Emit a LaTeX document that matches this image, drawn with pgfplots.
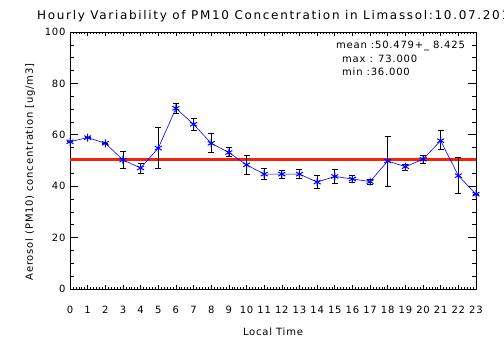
\documentclass[border=0pt]{standalone}
\usepackage{fontspec}
\setmainfont{DejaVu Sans}[LetterSpace=8]
\usepackage{pgfplots}
\usepackage{pgfplotstable}
\pgfplotsset{compat=1.18}
\definecolor{meanred}{RGB}{245,35,10}
\pgfplotstableread{
h y ep em
0 57.3 0 0
1 58.9 0 0
2 56.7 0 0
3 50.2 3.3 3.2
4 47.1 1.8 2.1
5 54.8 8.1 7.8
6 70.3 1.9 2.0
7 64.1 2.3 2.5
8 56.7 3.8 3.6
9 53.1 2.0 1.6
10 48.3 3.6 3.5
11 44.7 2.3 2.0
12 44.7 1.6 1.6
13 44.7 1.8 1.8
14 41.6 2.5 2.5
15 43.8 2.8 2.6
16 42.8 1.3 1.2
17 41.8 1.0 1.0
18 49.8 9.7 9.8
19 47.6 0.9 1.5
20 50.5 1.5 1.6
21 57.7 4.2 3.3
22 44.1 7.2 6.8
23 36.9 0 0
}\pm
\pgfplotstableread{
h y
0 50.479
23 50.479
}\meanline
\newfontfamily\titlefont{DejaVu Sans}[LetterSpace=14]
\begin{document}
\begin{tikzpicture}
\useasboundingbox (0pt,0pt) rectangle (504pt,361pt);
\begin{axis}[
  at={(70pt,72pt)}, anchor=south west,
  scale only axis, width=406pt, height=257pt,
  xmin=0, xmax=23, ymin=0, ymax=100,
  xtick={0,...,23}, minor x tick num=5,
  ytick={0,20,...,100}, minor y tick num=3,
  tick align=inside,
  axis line style={line width=0.8pt},
  xtick style={black, line width=0.6pt, /pgfplots/major tick length=4pt, /pgfplots/minor tick length=2pt},
  ytick style={black, line width=0.6pt, /pgfplots/major tick length=8pt, /pgfplots/minor tick length=4pt},
  ticklabel style={font=\fontsize{10}{12}\selectfont},
  /pgf/number format/assume math mode=true,
  xticklabel style={yshift=-14pt},
  yticklabel style={xshift=-1pt},
  clip=false,
]
\addplot[meanred, line width=3.5pt] table[x=h,y=y] {\meanline};
\addplot[blue, line width=0.6pt, mark=asterisk, mark size=4pt,
  mark options={blue, line width=1pt},
  error bars/.cd, y dir=both, y explicit,
  error bar style={black, line width=0.7pt},
  error mark options={black, rotate=90, mark size=3pt, line width=0.7pt}]
  table[x=h, y=y, y error plus=ep, y error minus=em] {\pm};
\end{axis}
\node[anchor=west, font=\titlefont\fontsize{12}{14}\selectfont, inner sep=0] at (37pt,345pt) {Hourly Variability of PM10 Concentration in Limassol:10.07.2012};
\node[font=\fontsize{10}{12}\selectfont, inner sep=0] at (273pt,29pt) {Local Time};
\node[rotate=90, font=\fontsize{10}{12}\selectfont, inner sep=0] at (30pt,189pt) {Aerosol (PM10) concentration [ug/m3]};
\node[anchor=west, font=\fontsize{10}{12}\selectfont, inner sep=0] at (336pt,315pt) {mean :50.479+\_ 8.425};
\node[anchor=west, font=\fontsize{10}{12}\selectfont, inner sep=0] at (342pt,302pt) {max : 73.000};
\node[anchor=west, font=\fontsize{10}{12}\selectfont, inner sep=0] at (342pt,289pt) {min :36.000};
\end{tikzpicture}
\end{document}
